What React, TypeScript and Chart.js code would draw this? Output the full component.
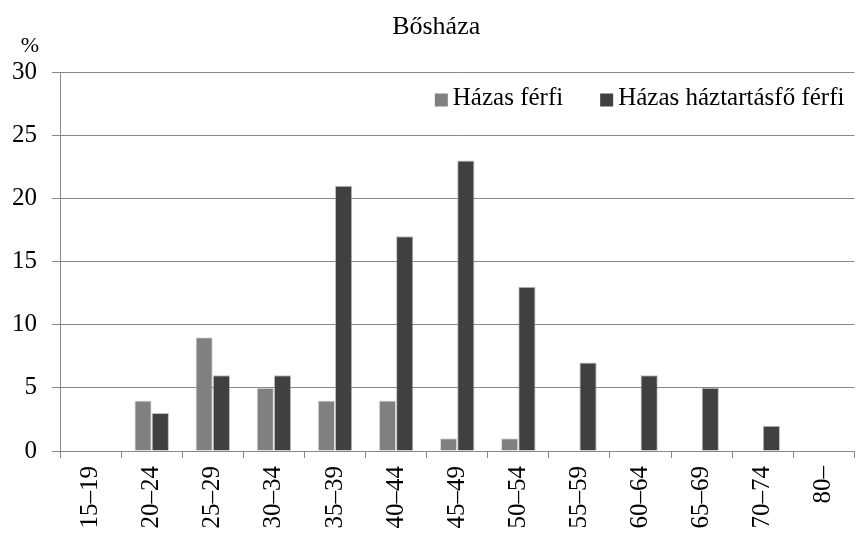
import React, { useEffect, useRef } from "react";
import { Chart, registerables } from "chart.js";

Chart.register(...registerables);

const title = "Bősháza";
const unitLabel = "%";
const categories = ["15–19", "20–24", "25–29", "30–34", "35–39", "40–44", "45–49", "50–54", "55–59", "60–64", "65–69", "70–74", "80–"];
const seriesNames = ["Házas férfi", "Házas háztartásfő férfi"];
const hazasFerfi = [0, 4, 9, 5, 4, 4, 1, 1, 0, 0, 0, 0, 0];
const haztartasfoFerfi = [0, 3, 6, 6, 21, 17, 23, 13, 7, 6, 5, 2, 0];
const yMin = 0;
const yMax = 30;
const yStep = 5;

const FONT = "'Liberation Serif', 'Times New Roman', serif";
const GRID = "#878787";
const COLORS = ["#808080", "#404040"];

const textPlugin = {
  id: "customText",
  afterDraw(chart: any) {
    const { ctx, chartArea } = chart;
    ctx.save();
    ctx.fillStyle = "#000";
    // title
    ctx.font = `26px ${FONT}`;
    ctx.textAlign = "center";
    ctx.textBaseline = "middle";
    ctx.fillText(title, (chartArea.left + chartArea.right) / 2 - 21, 27);
    // unit label
    ctx.font = `22px ${FONT}`;
    ctx.textAlign = "right";
    ctx.fillText(unitLabel, chartArea.left - 21, 46);
    // legend
    ctx.font = `25px ${FONT}`;
    ctx.textAlign = "left";
    const box = 13;
    const gap = 5;
    const itemGap = 37;
    const widths = chart.data.datasets.map((d: any) => ctx.measureText(d.label).width);
    let total = 0;
    widths.forEach((w: number, i: number) => {
      total += box + gap + w + (i > 0 ? itemGap : 0);
    });
    let x = chartArea.right - 10 - total;
    const yc = chartArea.top + 27;
    chart.data.datasets.forEach((d: any, i: number) => {
      ctx.fillStyle = d.backgroundColor;
      ctx.fillRect(x, yc - box / 2 + 1, box, box);
      ctx.fillStyle = "#000";
      ctx.fillText(d.label, x + box + gap, yc - 1);
      x += box + gap + widths[i] + itemGap;
    });
    ctx.restore();
  },
};

export default function App() {
  const ref = useRef<HTMLCanvasElement>(null);
  useEffect(() => {
    if (!ref.current) return;
    const chart = new Chart(ref.current, {
      type: "bar",
      data: {
        labels: categories,
        datasets: [
          {
            label: seriesNames[0],
            data: hazasFerfi,
            backgroundColor: COLORS[0],
            borderColor: "rgba(200,200,200,0.6)",
            borderWidth: 1,
            categoryPercentage: 0.565,
            barPercentage: 1,
          },
          {
            label: seriesNames[1],
            data: haztartasfoFerfi,
            backgroundColor: COLORS[1],
            borderColor: "rgba(150,150,150,0.6)",
            borderWidth: 1,
            categoryPercentage: 0.565,
            barPercentage: 1,
          },
        ],
      },
      options: {
        responsive: false,
        animation: false,
        layout: { padding: { left: 12, top: 72, right: 4, bottom: 0 } },
        plugins: {
          legend: { display: false },
          title: { display: false },
          tooltip: { enabled: false },
        },
        scales: {
          x: {
            offset: true,
            afterFit: (scale: any) => {
              scale.height = 83;
            },
            grid: {
              display: true,
              drawOnChartArea: false,
              drawTicks: true,
              tickLength: 7,
              color: GRID,
              offset: true,
            },
            border: { display: true, color: GRID, width: 1 },
            ticks: {
              minRotation: 90,
              maxRotation: 90,
              autoSkip: false,
              padding: 8,
              color: "#000",
              font: { family: FONT, size: 25 },
            },
          },
          y: {
            min: yMin,
            max: yMax,
            afterFit: (scale: any) => {
              scale.width = 48;
            },
            grid: { color: GRID, tickLength: 8, lineWidth: 1 },
            border: { display: true, color: GRID, width: 1 },
            ticks: {
              stepSize: yStep,
              padding: 15,
              color: "#000",
              font: { family: FONT, size: 25 },
            },
          },
        },
      },
      plugins: [textPlugin],
    });
    return () => chart.destroy();
  }, []);
  return (
    <div style={{ position: "absolute", left: 0, top: 0, width: 862, height: 534, background: "#fff" }}>
      <canvas ref={ref} width={862} height={534} style={{ display: "block" }} />
    </div>
  );
}
